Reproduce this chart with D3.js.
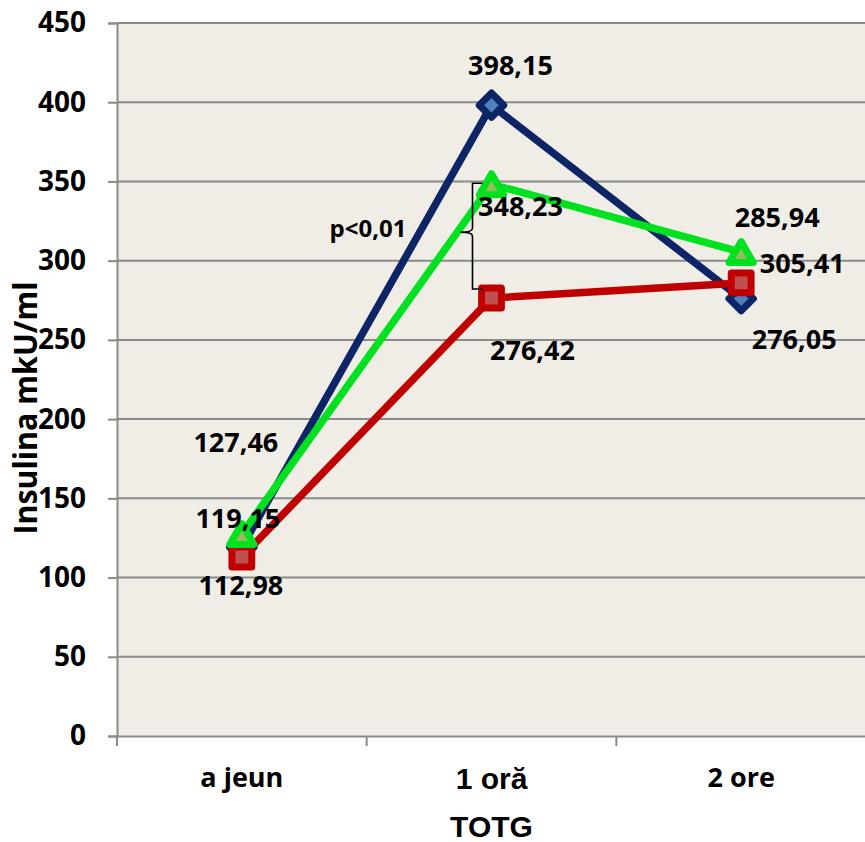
<!DOCTYPE html>
<html>
<head>
<meta charset="utf-8">
<script src="https://cdn.jsdelivr.net/npm/d3@7"></script>
<style>
  html, body { margin: 0; padding: 0; background: #ffffff; }
  svg { display: block; font-family: "Open Sans", "DejaVu Sans", sans-serif; font-weight: bold; }
</style>
</head>
<body>
<svg id="chart" width="865" height="842"></svg>
<script>
// Insulin levels during the oral glucose tolerance test (TOTG)
const categories = ["a jeun", "1 oră", "2 ore"];
const yTicks = [0, 50, 100, 150, 200, 250, 300, 350, 400, 450];

const blueValues  = [119.15, 398.15, 276.05];
const redValues   = [112.98, 276.42, 285.94];
const greenValues = [127.46, 348.23, 305.41];

// label placement (pixel offsets from each point)
const blueLabelOffsets  = [[-4, -29], [19, -40], [53, 41]];
const redLabelOffsets   = [[-1, 28], [41, 52], [36, -66]];
const greenLabelOffsets = [[-6, -92], [29, 22], [61, 11]];

const series = [
  { values: blueValues,  offsets: blueLabelOffsets,  stroke: "#0d2466", fill: "#4f81bd", shape: "diamond" },
  { values: redValues,   offsets: redLabelOffsets,   stroke: "#c00000", fill: "#c0504d", shape: "square" },
  { values: greenValues, offsets: greenLabelOffsets, stroke: "#00e21f", fill: "#9bbb59", shape: "triangle" }
];

const BODY_FONT = "'Open Sans', sans-serif";
const FALLBACK_FONT = "'Liberation Sans', Arial, sans-serif";
// text with Romanian diacritics falls back to the Arial-like face
const fontFor = t => /[ăâîșțş]/i.test(t) ? FALLBACK_FONT : BODY_FONT;

const svg = d3.select("#chart");
const plot = { left: 117, right: 866, top: 23, bottom: 736 };

const x = d3.scaleBand().domain(categories).range([plot.left, plot.right]).padding(0);
const y = d3.scaleLinear().domain([0, 450]).range([plot.bottom, plot.top]);
const cx = c => x(c) + x.bandwidth() / 2;

// plot background
svg.append("rect")
  .attr("x", plot.left).attr("y", plot.top)
  .attr("width", plot.right - plot.left).attr("height", plot.bottom - plot.top)
  .attr("fill", "#efede6");

// horizontal gridlines
svg.append("g").selectAll("line").data(yTicks.filter(d => d > 0)).join("line")
  .attr("x1", plot.left).attr("x2", plot.right)
  .attr("y1", d => y(d)).attr("y2", d => y(d))
  .attr("stroke", "#8a8a8a").attr("stroke-width", 2);

// y axis
const yAxis = svg.append("g").attr("transform", `translate(${plot.left},0)`)
  .call(d3.axisLeft(y).tickValues(yTicks).tickSize(9).tickPadding(22).tickFormat(d3.format("d")));
yAxis.select(".domain").attr("stroke", "#8a8a8a").attr("stroke-width", 2);
yAxis.selectAll(".tick line").attr("stroke", "#8a8a8a").attr("stroke-width", 2);
yAxis.selectAll(".tick text").attr("fill", "#000").style("font-size", "28px")
  .style("font-family", BODY_FONT).style("font-weight", "bold");

// x axis
const xAxis = svg.append("g").attr("transform", `translate(0,${plot.bottom})`)
  .call(d3.axisBottom(x).tickSize(0).tickPadding(32));
xAxis.select(".domain").attr("stroke", "#8a8a8a").attr("stroke-width", 2);
xAxis.selectAll(".tick text").attr("fill", "#000")
  .style("font-size", d => fontFor(d) === BODY_FONT ? "27px" : "30px")
  .style("font-family", d => fontFor(d)).style("font-weight", "bold");
// category separators
xAxis.append("g").selectAll("line").data(categories.concat([null])).join("line")
  .attr("x1", (d, i) => plot.left + i * x.bandwidth())
  .attr("x2", (d, i) => plot.left + i * x.bandwidth())
  .attr("y1", 0).attr("y2", 10)
  .attr("stroke", "#8a8a8a").attr("stroke-width", 2);

// axis titles
svg.append("text")
  .attr("transform", `translate(37,408) rotate(-90)`)
  .attr("text-anchor", "middle").style("font-size", "33px").attr("fill", "#000")
  .attr("textLength", 253).attr("lengthAdjust", "spacingAndGlyphs")
  .text("Insulina mkU/ml");
svg.append("text")
  .attr("x", cx(categories[1])).attr("y", 837)
  .attr("text-anchor", "middle").style("font-size", "30px")
  .style("font-family", FALLBACK_FONT).attr("fill", "#000")
  .text("TOTG");

// lines
const line = d3.line().x((d, i) => cx(categories[i])).y(d => y(d));
series.forEach(s => {
  svg.append("path").datum(s.values)
    .attr("d", line).attr("fill", "none")
    .attr("stroke", s.stroke).attr("stroke-width", 7.5)
    .attr("stroke-linejoin", "round");
});

// markers
const symbolFor = { diamond: d3.symbolDiamond2, square: d3.symbolSquare2, triangle: d3.symbolTriangle2 };
const sizeFor = { diamond: 380, square: 500, triangle: 420 };
series.forEach(s => {
  const k = Math.sqrt(sizeFor.triangle) * 0.6824;
  svg.append("g").selectAll("path").data(s.values).join("path")
    .attr("transform", (d, i) => `translate(${cx(categories[i])},${y(d) + (s.shape === "triangle" ? k / 4 : 0)})`)
    .attr("d", d3.symbol().type(symbolFor[s.shape]).size(sizeFor[s.shape]))
    .attr("fill", s.fill).attr("stroke", s.stroke).attr("stroke-width", 7)
    .attr("stroke-linejoin", "round");
});

// significance bracket between the 1-hour values
const bx = cx(categories[1]) - 19;
const yTop = y(greenValues[1]) - 1;
const yBot = y(redValues[1]) - 9;
const yMid = (yTop + yBot) / 2 - 4;
svg.append("path")
  .attr("d", `M${bx + 10},${yTop} L${bx},${yTop} L${bx},${yMid - 4} Q${bx},${yMid} ${bx - 12},${yMid} Q${bx},${yMid} ${bx},${yMid + 4} L${bx},${yBot} L${bx + 10},${yBot}`)
  .attr("fill", "none").attr("stroke", "#000").attr("stroke-width", 1.6);
svg.append("text")
  .attr("x", 368).attr("y", 237)
  .attr("text-anchor", "middle").style("font-size", "24px").attr("fill", "#000")
  .text("p<0,01");

// value labels
const fmt = v => d3.format(".2f")(v).replace(".", ",");
series.forEach(s => {
  svg.append("g").selectAll("text").data(s.values).join("text")
    .attr("x", (d, i) => cx(categories[i]) + s.offsets[i][0])
    .attr("y", (d, i) => y(d) + s.offsets[i][1])
    .attr("dy", "0.36em")
    .attr("text-anchor", "middle").style("font-size", "27px").attr("fill", "#000")
    .text(fmt);
});
</script>
</body>
</html>
